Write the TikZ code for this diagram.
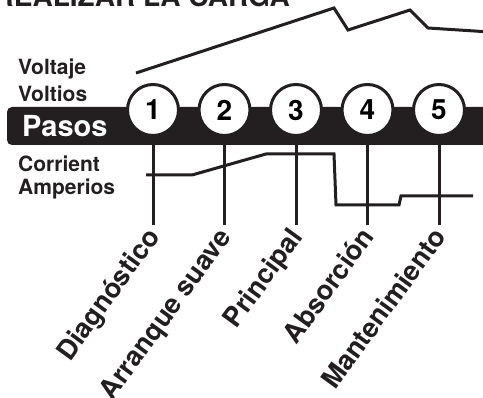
\documentclass[tikz,border=0pt]{standalone}
\usepackage{fontspec}
\setmainfont{TeX Gyre Heros}
\definecolor{ink}{HTML}{231F20}
\begin{document}
\begin{tikzpicture}[x=1pt,y=-1pt,
  paso/.style={circle,draw=ink,fill=white,line width=3pt,minimum size=51pt,inner sep=0pt,
    font=\fontsize{28}{28}\selectfont\bfseries},
  etapa/.style={rotate=54,anchor=base east,inner sep=0pt,text=ink,
    font=\fontsize{27}{27}\selectfont\bfseries},
  lado/.style={anchor=base west,inner sep=0pt,text=ink,
    font=\fontsize{21}{21}\selectfont\bfseries},
  traza/.style={draw=ink,line width=3pt}]
\useasboundingbox (0,0) rectangle (483,398);
\clip (0,0) rectangle (483,398);
\node[anchor=base east,inner sep=0pt,text=ink,font=\fontsize{28}{28}\selectfont\bfseries]
  (titulo) at (290,7) {REALIZAR LA CARGA};
\node[lado] (voltaje) at (18,75) {Voltaje};
\node[lado] (voltios) at (18,102) {Voltios};
\node[lado] (corrient) at (18,172) {Corrient};
\node[lado] (amperios) at (18,195) {Amperios};
% barra de pasos
\fill[ink,rounded corners=5pt] (7,107) rectangle (520,145);
\node[lado,text=white,font=\fontsize{29}{29}\selectfont\bfseries] (pasos) at (22,137) {Pasos};
\foreach \i/\nombre in {1/Diagnóstico,2/Arranque suave,3/Principal,4/Absorción,5/Mantenimiento}{
  \node[paso] (p\i) at ({153+71.5*(\i-1)},110) {\i};
  \coordinate (f\i) at ({153+71.5*(\i-1)},225);
  \draw[traza] (p\i.south) -- (f\i);
  \node[etapa] (e\i) at ({161+71.5*(\i-1)},237) {\nombre};
}
% voltaje
\draw[traza] (136,73) -- (334,8) -- (348,30) -- (410,10) -- (428,28) -- (490,32);
% corriente
\draw[traza] (146,175) -- (192,175) -- (266,154) -- (334,154) -- (336,205)
  -- (399,205) -- (401,196) -- (473,196);
\end{tikzpicture}
\end{document}
